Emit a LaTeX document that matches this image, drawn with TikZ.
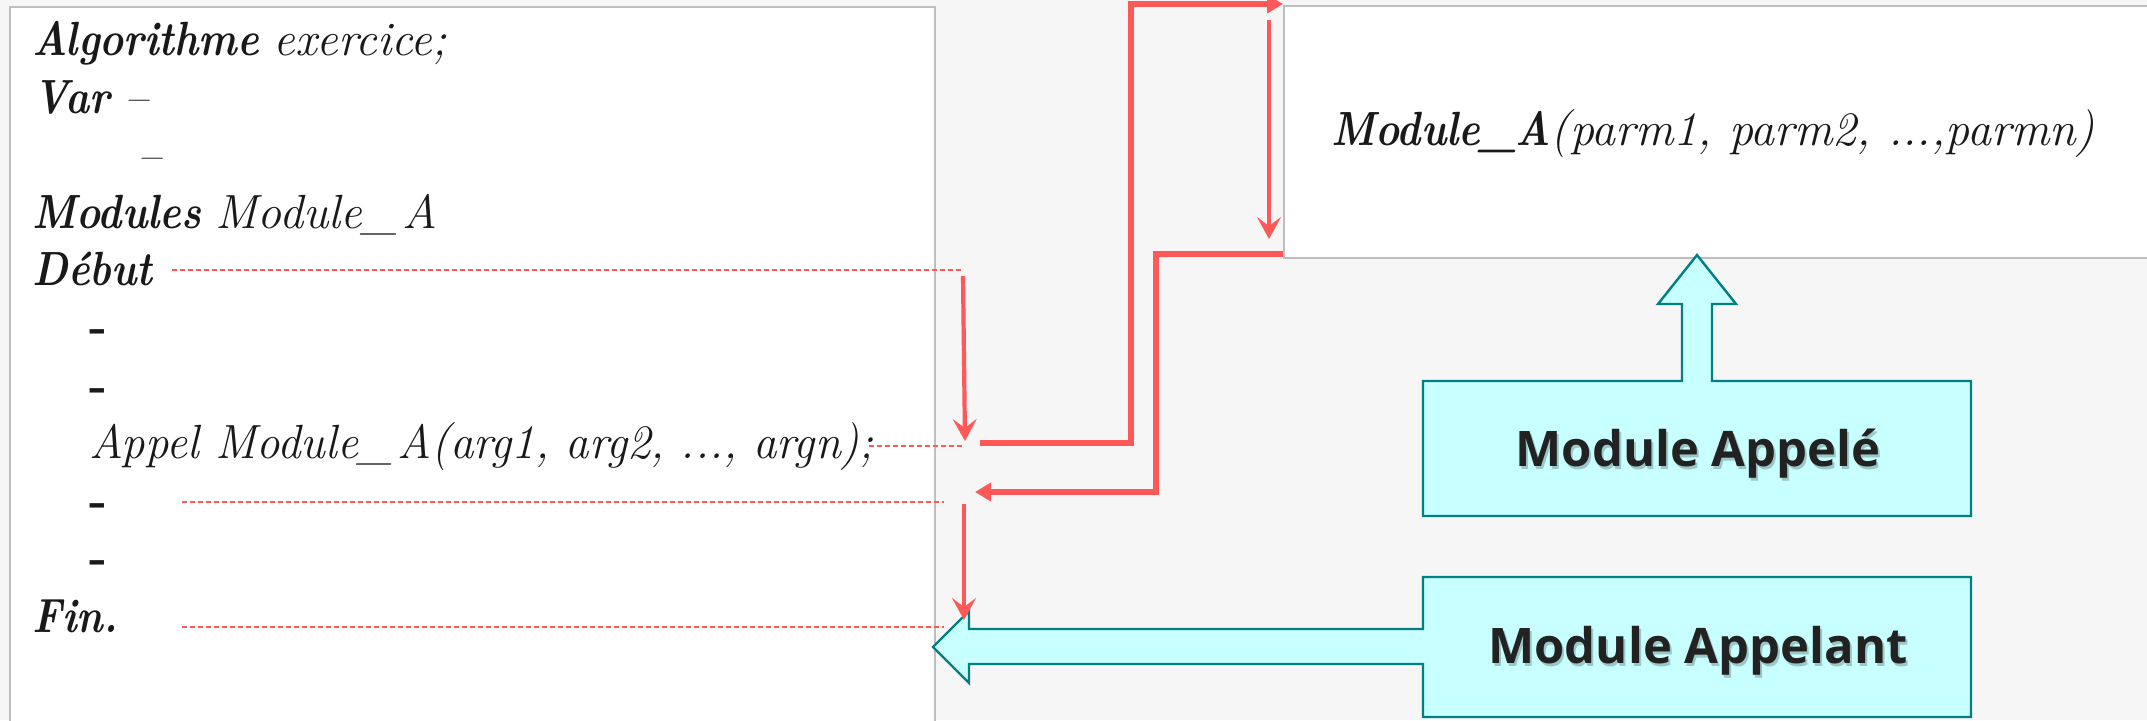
\documentclass[tikz,border=0pt]{standalone}
\usepackage{fontspec}
\newfontfamily\osans{Open Sans}
\usetikzlibrary{arrows.meta}
\definecolor{redl}{RGB}{255,88,88}
\definecolor{tealb}{RGB}{0,128,128}
\definecolor{cyanf}{RGB}{200,255,255}
\definecolor{bggray}{RGB}{246,246,246}
\definecolor{boxgray}{RGB}{190,190,190}
\definecolor{inkdark}{RGB}{34,34,34}
\newcommand\bi[1]{\scalebox{0.85}[1]{\bfseries\itshape #1}}
\begin{document}
\begin{tikzpicture}[x=0.5pt,y=-0.5pt,
  codeline/.style={anchor=base west, inner sep=0pt, font=\fontsize{24}{28}\selectfont, text=black!90},
  guide/.style={draw=redl, line width=0.75pt, dash pattern=on 2.5pt off 1.5pt},
  flowthin/.style={draw=redl, line width=2.1pt, -{Stealth[length=11pt,width=12pt,inset=4.5pt]}},
  flowthick/.style={draw=redl, line width=2.6pt, line join=miter, -{Triangle[length=8pt,width=9pt]}},
  callout/.style={draw=tealb, fill=cyanf, line width=1.2pt, line join=miter},
  calltext/.style={anchor=base, inner sep=0pt, font=\osans\bfseries\fontsize{24.5}{30}\selectfont, text=inkdark},
  callshadow/.style={calltext, text=black, opacity=0.22},
  panel/.style={draw=boxgray, fill=white, line width=1.2pt, anchor=north west, inner sep=0pt}]
\useasboundingbox (0,0) rectangle (2147,720);
\fill[bggray] (0,0) rectangle (2147,720);
\begin{scope}
\clip (0,0) rectangle (2147,720);
\node[panel, minimum width=462.5pt, minimum height=367pt] (left) at (9,6) {};
\node[panel, minimum width=438.5pt, minimum height=126pt] (right) at (1283,5) {};
\end{scope}

% code lines
\node[codeline] (l1) at (32,55) {\bi{Algorithme} \textit{exercice;}};
\node[codeline] (l2) at (33,113) {\bi{Var} \textit{–}};
\node[codeline] (l3) at (137,171) {\textit{–}};
\node[codeline] (l4) at (32,228) {\bi{Modules} \textit{Module\_\hspace{0.12em}A}};
\node[codeline] (l5) at (32,285) {\bi{Début}};
\node[codeline] (l6) at (89,342) {\textbf{-}};
\node[codeline] (l7) at (89,401) {\textbf{-}};
\node[codeline] (l8) at (89,458) {\scalebox{0.975}[1]{\textit{Appel Module\_\hspace{0.12em}A(arg1, arg2, ..., argn);}}};
\node[codeline] (l9) at (89,516) {\textbf{-}};
\node[codeline] (l10) at (89,573) {\textbf{-}};
\node[codeline] (l11) at (32,632) {\bi{Fin.}};
\node[codeline] (rt) at (1331,145) {\bi{Module\_A}\textit{(parm1, parm2, ...,parmn)}};

% callouts
\path[callout] (1423,381) -- (1682,381) -- (1682,304) -- (1658,304) -- (1697,255)
  -- (1736,304) -- (1712,304) -- (1712,381) -- (1971,381) -- (1971,516) -- (1423,516) -- cycle;
\path[callout] (1423,577) -- (1971,577) -- (1971,717) -- (1423,717) -- (1423,664)
  -- (969,664) -- (969,683) -- (933,647) -- (969,611) -- (969,629) -- (1423,629) -- cycle;
\node[callshadow] (appele-sh) at (1700,469) {Module Appelé};
\node[callshadow] (appelant-sh) at (1700,666) {Module Appelant};
\node[calltext] (appele) at (1698,466) {Module Appelé};
\node[calltext] (appelant) at (1698,663) {Module Appelant};

% coordinates
\coordinate (g1a) at (172,270); \coordinate (g1b) at (962,270);
\coordinate (a1s) at (963,276); \coordinate (a1e) at (965,441);
\coordinate (g2a) at (869,446); \coordinate (g2b) at (965,446);
\coordinate (p1s) at (980,443); \coordinate (p1b) at (1131,443);
\coordinate (p1c) at (1131,4);  \coordinate (p1e) at (1283,4);
\coordinate (a2s) at (1269,20); \coordinate (a2e) at (1269,239);
\coordinate (p2s) at (1283,254); \coordinate (p2b) at (1156,254);
\coordinate (p2c) at (1156,492); \coordinate (p2e) at (975,492);
\coordinate (g3a) at (182,502); \coordinate (g3b) at (944,502);
\coordinate (a3s) at (964,504); \coordinate (a3e) at (964,620);
\coordinate (g4a) at (182,627); \coordinate (g4b) at (944,627);

% connectors
\draw[guide] (g1a) -- (g1b);
\draw[guide] (g2a) -- (g2b);
\draw[guide] (g3a) -- (g3b);
\draw[guide] (g4a) -- (g4b);
\draw[flowthin] (a1s) -- (a1e);
\draw[flowthin] (a2s) -- (a2e);
\draw[flowthin] (a3s) -- (a3e);
\draw[flowthick] (p1s) -- (p1b) -- (p1c) -- (p1e);
\draw[flowthick] (p2s) -- (p2b) -- (p2c) -- (p2e);
\end{tikzpicture}
\end{document}
